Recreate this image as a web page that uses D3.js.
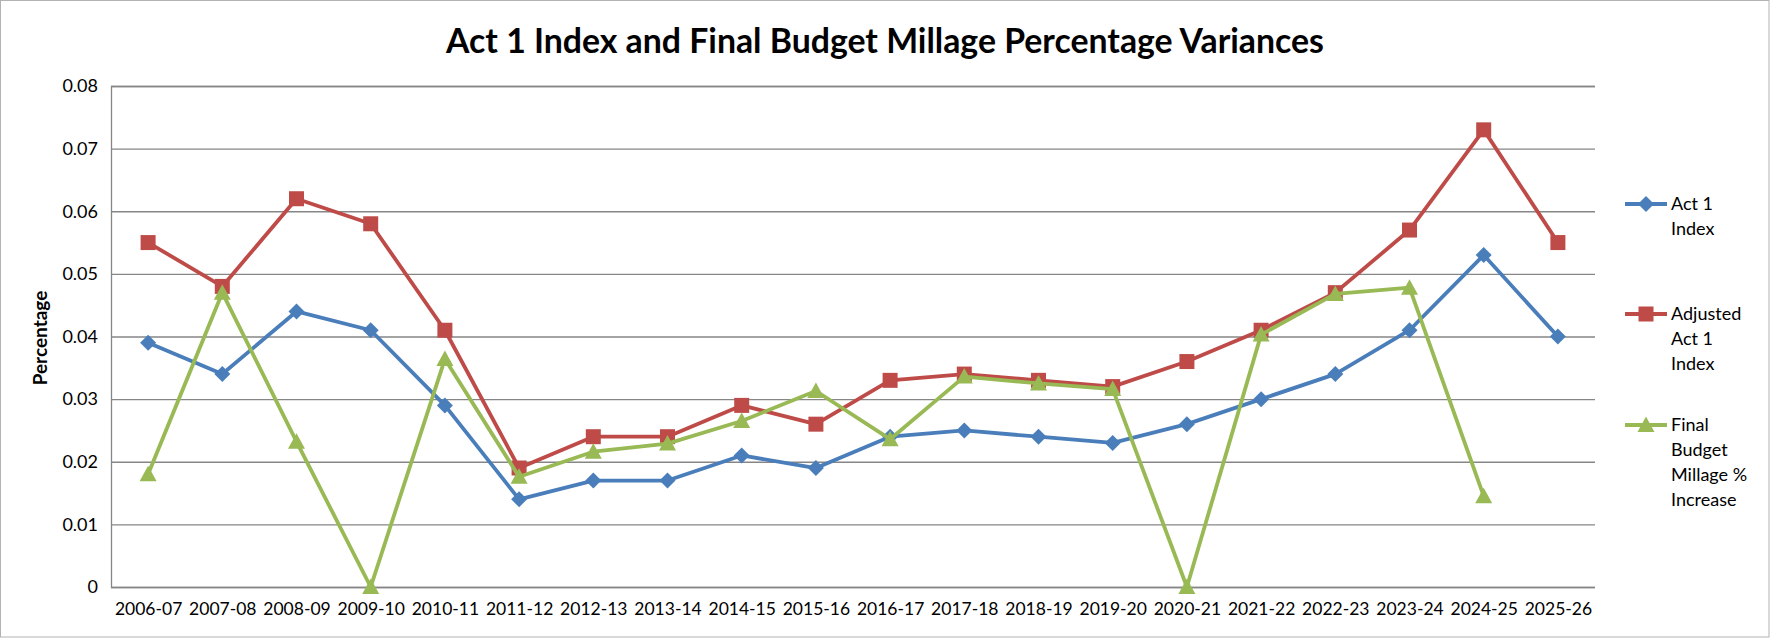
<!DOCTYPE html>
<html>
<head>
<meta charset="utf-8">
<script src="https://cdn.jsdelivr.net/npm/d3@7"></script>
<style>
  html, body { margin: 0; padding: 0; background: #fff; }
  svg { display: block; }
  text { font-family: Lato, "Open Sans", sans-serif; fill: #000; }
</style>
</head>
<body>
<svg id="chart" width="1770" height="638"></svg>
<script>
const categories = ["2006-07","2007-08","2008-09","2009-10","2010-11","2011-12","2012-13","2013-14","2014-15","2015-16","2016-17","2017-18","2018-19","2019-20","2020-21","2021-22","2022-23","2023-24","2024-25","2025-26"];
const act1Index = [0.039,0.034,0.044,0.041,0.029,0.014,0.017,0.017,0.021,0.019,0.024,0.025,0.024,0.023,0.026,0.030,0.034,0.041,0.053,0.040];
const adjustedAct1Index = [0.055,0.048,0.062,0.058,0.041,0.019,0.024,0.024,0.029,0.026,0.033,0.034,0.033,0.032,0.036,0.041,0.047,0.057,0.073,0.055];
const finalBudgetMillage = [0.018,0.047,0.0232,0,0.0364,0.0176,0.0216,0.0229,0.0265,0.0313,0.0236,0.0336,0.0325,0.0316,0,0.0403,0.0468,0.0478,0.0145,null];
const yTickValues = [0,0.01,0.02,0.03,0.04,0.05,0.06,0.07,0.08];
const yTickLabels = ["0","0.01","0.02","0.03","0.04","0.05","0.06","0.07","0.08"];
const seriesNames = [["Act 1","Index"],["Adjusted","Act 1","Index"],["Final","Budget","Millage %","Increase"]];
const titleText = "Act 1 Index and Final Budget Millage Percentage Variances";
const yAxisTitle = "Percentage";

const svg = d3.select("#chart");
const W = 1770, H = 638;
const plot = {left: 111, right: 1595, top: 86, bottom: 587};

// outer border
svg.append("rect").attr("x", 0.5).attr("y", 0.5).attr("width", W - 1.5).attr("height", H - 1.5)
  .attr("fill", "#fff").attr("stroke", "#b3b3b3").attr("stroke-width", 1);

const x = d3.scalePoint().domain(categories).range([plot.left, plot.right]).padding(0.5);
const y = d3.scaleLinear().domain([0, 0.08]).range([plot.bottom, plot.top]);

// grid + y axis
const yAxis = d3.axisLeft(y).tickValues(yTickValues)
  .tickFormat((d, i) => yTickLabels[i])
  .tickSize(-(plot.right - plot.left)).tickPadding(13);
const gy = svg.append("g").attr("transform", `translate(${plot.left},0)`).call(yAxis);
gy.select(".domain").attr("stroke", "#868686").attr("stroke-width", 1.3);
gy.selectAll(".tick line").attr("stroke", "#868686").attr("stroke-width", 1.3);
gy.selectAll(".tick text").attr("font-size", 18).attr("font-family", "Lato, sans-serif").attr("fill", "#000");

// x axis labels
const xAxis = d3.axisBottom(x).tickSize(0).tickPadding(16);
const gx = svg.append("g").attr("transform", `translate(0,${plot.bottom})`).call(xAxis);
gx.select(".domain").remove();
gx.selectAll(".tick text").attr("font-size", 17.5).attr("font-family", "Lato, sans-serif").attr("fill", "#000");

// title
svg.append("text").attr("x", 885).attr("y", 53).attr("text-anchor", "middle")
  .attr("font-size", 33.8).attr("font-weight", "bold").text(titleText);

// y axis title
svg.append("text").attr("transform", "translate(47,338) rotate(-90)").attr("text-anchor", "middle")
  .attr("font-size", 19).attr("font-weight", "bold").text(yAxisTitle);

const colors = ["#4A7EBB", "#BE4B48", "#98B954"];
const data = [act1Index, adjustedAct1Index, finalBudgetMillage];

const markerPath = [
  // diamond
  (cx, cy) => `M${cx},${cy-8}L${cx+8},${cy}L${cx},${cy+8}L${cx-8},${cy}Z`,
  // square
  (cx, cy) => `M${cx-7.5},${cy-7.5}h15v15h-15Z`,
  // triangle
  (cx, cy) => `M${cx},${cy-8.5}L${cx+8.5},${cy+7}L${cx-8.5},${cy+7}Z`
];

const line = d3.line()
  .defined(d => d.v !== null)
  .x(d => x(d.c)).y(d => y(d.v));

data.forEach((vals, si) => {
  const pts = categories.map((c, i) => ({c, v: vals[i]}));
  const g = svg.append("g");
  g.append("path").datum(pts).attr("d", line)
    .attr("fill", "none").attr("stroke", colors[si]).attr("stroke-width", 3.8)
    .attr("stroke-linejoin", "round").attr("stroke-linecap", "round");
  g.selectAll("path.m").data(pts.filter(d => d.v !== null)).join("path").attr("class", "m")
    .attr("d", d => markerPath[si](x(d.c), y(d.v)))
    .attr("fill", colors[si]);
});

// legend
const legendTop = [204, 314, 425];
const lineH = 25;
seriesNames.forEach((lines, si) => {
  const g = svg.append("g");
  const ly = legendTop[si];
  g.append("line").attr("x1", 1625).attr("x2", 1667).attr("y1", ly).attr("y2", ly)
    .attr("stroke", colors[si]).attr("stroke-width", 3.8);
  g.append("path").attr("d", markerPath[si](1646, ly)).attr("fill", colors[si]);
  const t = g.append("text").attr("x", 1671).attr("y", ly).attr("font-size", 18);
  lines.forEach((ln, li) => {
    t.append("tspan").attr("x", 1671).attr("y", ly + li * lineH).attr("dy", "0.35em").text(ln);
  });
});
</script>
</body>
</html>
